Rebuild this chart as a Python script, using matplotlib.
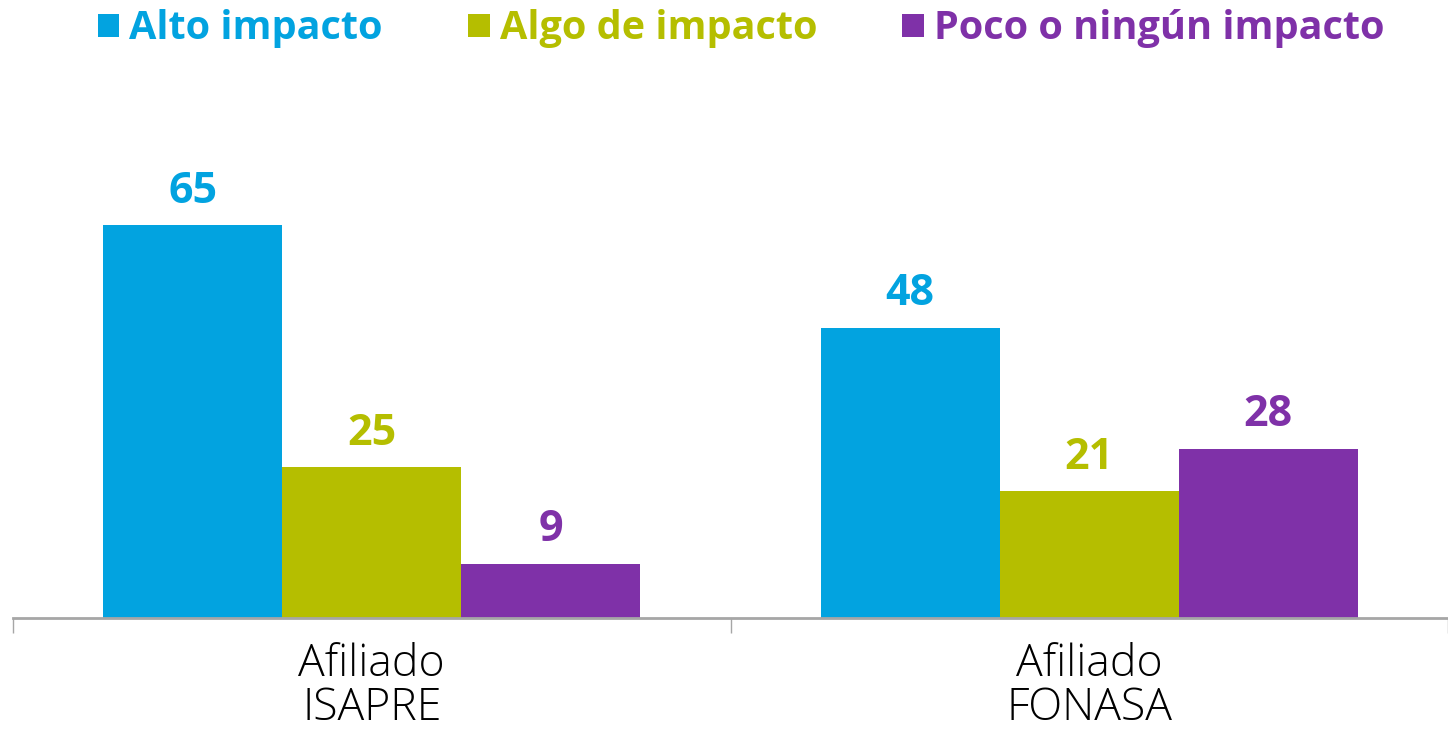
import numpy as np
import matplotlib.pyplot as plt
from matplotlib.patches import Patch

categories = ["Afiliado\nISAPRE", "Afiliado\nFONASA"]
series = ["Alto impacto", "Algo de impacto", "Poco o ningún impacto"]
alto = [65, 48]
algo = [25, 21]
poco = [9, 28]
colors = ["#02A3E0", "#B5BE00", "#7F31A8"]

W, H = 1448, 741
fig = plt.figure(figsize=(W / 100, H / 100), dpi=100)

# axes: baseline at y=618px, left edge at x=13px
ax = fig.add_axes([13 / W, 1 - 618 / H, 1 - 13 / W, 618 / H])

x = np.arange(len(categories))
bw = 0.2495
values = [alto, algo, poco]
for i, (vals, col) in enumerate(zip(values, colors)):
    pos = x + (i - 1) * bw
    ax.bar(pos, vals, width=bw, color=col, label=series[i], zorder=2)
    for p, v in zip(pos, vals):
        ax.annotate(str(v), (p, v), xytext=(0, 16), textcoords="offset points",
                    ha="center", va="baseline", color=col, fontsize=31,
                    fontweight="bold", family="Open Sans")

px_per_cat = 722
ax.set_xlim(-0.5, -0.5 + (W - 13) / px_per_cat)
ax.set_ylim(0, 618 / 6.05)

for s in ["top", "right", "left"]:
    ax.spines[s].set_visible(False)
ax.spines["bottom"].set_color("#A6A6A6")
ax.spines["bottom"].set_linewidth(2)
ax.set_yticks([])

ax.set_xticks([-0.5, 0.5, 1.5])
ax.set_xticklabels([])
ax.tick_params(axis="x", direction="out", length=11, width=1, color="#A6A6A6")
ax.set_xticks(x, minor=True)
ax.set_xticklabels(categories, minor=True, fontsize=32, family="Open Sans",
                   fontweight="light", color="black", linespacing=0.97)
ax.tick_params(axis="x", which="minor", length=0, pad=18)

handles = [Patch(facecolor=c, edgecolor="none") for c in colors]
leg = fig.legend(handles, series, loc="center", bbox_to_anchor=(741 / W, 1 - 29 / H),
                 ncol=3, frameon=False, handlelength=0.55,
                 handleheight=0.55, handletextpad=0.25, columnspacing=2.15,
                 prop={"family": "Open Sans", "weight": "bold", "size": 28.5})
for t, c in zip(leg.get_texts(), colors):
    t.set_color(c)

fig.savefig("out.png", dpi=100)
